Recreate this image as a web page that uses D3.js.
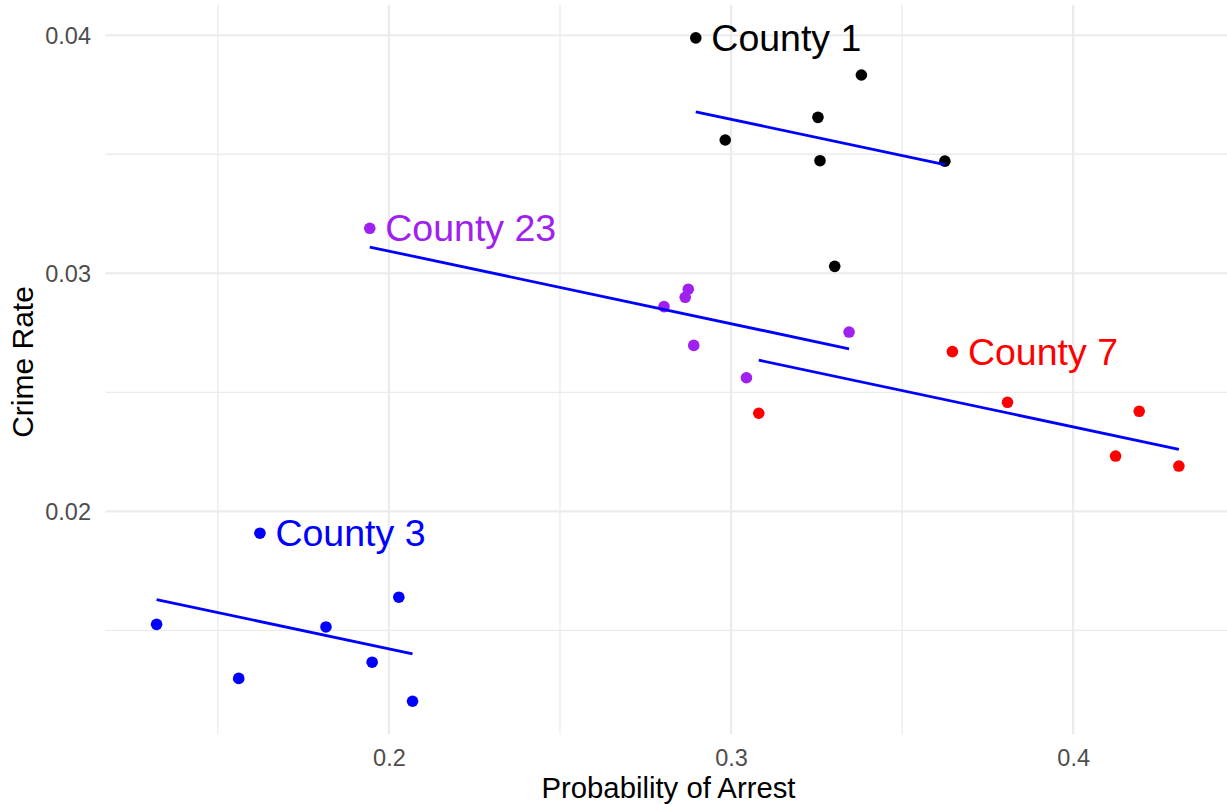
<!DOCTYPE html>
<html>
<head>
<meta charset="utf-8">
<script src="https://cdn.jsdelivr.net/npm/d3@7"></script>
<style>
  body { margin: 0; background: #fff; }
  text { font-family: "Liberation Sans", Arial, sans-serif; }
</style>
</head>
<body>
<div id="chart"></div>
<script>
// first entry of each county is the labelled one
const countyNames = ['County 1', 'County 3', 'County 7', 'County 23'];

const county1Arrest = [0.2897, 0.3381, 0.3254, 0.2983, 0.3260, 0.3625, 0.3303];
const county1Crime  = [0.03989, 0.03833, 0.03655, 0.03560, 0.03473, 0.03471, 0.03029];

const county3Arrest = [0.1623, 0.1321, 0.1561, 0.1816, 0.1951, 0.2029, 0.2069];
const county3Crime  = [0.01908, 0.01525, 0.01298, 0.01514, 0.01366, 0.01639, 0.01202];

const county7Arrest = [0.3647, 0.3808, 0.3081, 0.4193, 0.4124, 0.4309];
const county7Crime  = [0.02671, 0.02458, 0.02412, 0.02420, 0.02232, 0.02190];

const county23Arrest = [0.1944, 0.2804, 0.2875, 0.2866, 0.2891, 0.3045, 0.3345];
const county23Crime  = [0.03189, 0.02860, 0.02933, 0.02899, 0.02697, 0.02561, 0.02753];

const xTicks = [0.2, 0.3, 0.4],
      xMinor = [0.15, 0.25, 0.35];
const yTicks = [0.02, 0.03, 0.04],
      yMinor = [0.015, 0.025, 0.035];

const arrestByCounty = [county1Arrest, county3Arrest, county7Arrest, county23Arrest],
      crimeByCounty  = [county1Crime, county3Crime, county7Crime, county23Crime];

const counties = countyNames.map((name, i) => ({
    name: name,
    points: arrestByCounty[i].map((x, j) => ({county: name, x: x, y: crimeByCounty[i][j]}))
}));
const allPoints = counties.flatMap(c => c.points);

// county fixed effects fit: common slope, each line through its county mean
let sxy = 0, sxx = 0;
counties.forEach(c => {
    c.mx = d3.mean(c.points, d => d.x);
    c.my = d3.mean(c.points, d => d.y);
    c.points.forEach(p => {
        sxy += (p.x - c.mx) * (p.y - c.my);
        sxx += (p.x - c.mx) * (p.x - c.mx);
    });
});
const slope = sxy / sxx;

const W = 1227, H = 804;
const margin = {top: 4.7, left: 105.5},
      width = 1124.5,
      height = 729.7;

const colour = d3.scaleOrdinal()
    .domain(countyNames)
    .range(['#000000', '#0000FF', '#FF0000', '#A020F0']);

const pad = (ext) => {
    const r = ext[1] - ext[0];
    return [ext[0] - 0.05 * r, ext[1] + 0.05 * r];
};

const xScale = d3.scaleLinear()
    .domain(pad(d3.extent(allPoints, d => d.x)))
    .range([0, width]);
const yScale = d3.scaleLinear()
    .domain(pad(d3.extent(allPoints, d => d.y)))
    .range([height, 0]);

const svg = d3.select('#chart').append('svg')
    .attr('width', W)
    .attr('height', H);

const g = svg.append('g')
    .attr('transform', `translate(${margin.left}, ${margin.top})`);

// grid
const grid = g.append('g').attr('stroke', '#EBEBEB');
grid.selectAll('.xminor').data(xMinor).join('line')
    .attr('x1', d => xScale(d)).attr('x2', d => xScale(d))
    .attr('y1', 0).attr('y2', height)
    .attr('stroke-width', 1.3);
grid.selectAll('.yminor').data(yMinor).join('line')
    .attr('class', 'yminor')
    .attr('y1', d => yScale(d)).attr('y2', d => yScale(d))
    .attr('x1', 0).attr('x2', width)
    .attr('stroke-width', 1.3);
grid.selectAll('.xmajor').data(xTicks).join('line')
    .attr('class', 'xmajor')
    .attr('x1', d => xScale(d)).attr('x2', d => xScale(d))
    .attr('y1', 0).attr('y2', height)
    .attr('stroke-width', 2.2);
grid.selectAll('.ymajor').data(yTicks).join('line')
    .attr('class', 'ymajor')
    .attr('y1', d => yScale(d)).attr('y2', d => yScale(d))
    .attr('x1', 0).attr('x2', width)
    .attr('stroke-width', 2.2);

// axes
const xAxis = g.append('g')
    .attr('transform', `translate(0, ${height})`)
    .call(d3.axisBottom(xScale).tickValues(xTicks).tickSize(0).tickPadding(15).tickFormat(d3.format('.1f')));
const yAxis = g.append('g')
    .call(d3.axisLeft(yScale).tickValues(yTicks).tickSize(0).tickPadding(14.5).tickFormat(d3.format('.2f')));
[xAxis, yAxis].forEach(a => {
    a.select('.domain').remove();
    a.selectAll('text')
        .attr('fill', '#4D4D4D')
        .style('font-size', '23.5px')
        .style('font-family', '"Liberation Sans", Arial, sans-serif');
});
yAxis.selectAll('text').attr('dy', '0.35em');

// points
g.append('g').selectAll('circle')
    .data(allPoints)
    .join('circle')
    .attr('cx', d => xScale(d.x))
    .attr('cy', d => yScale(d.y))
    .attr('r', 5.8)
    .attr('fill', d => colour(d.county));

// fitted lines
g.append('g').selectAll('line')
    .data(counties)
    .join('line')
    .attr('x1', c => xScale(d3.min(c.points, d => d.x)))
    .attr('x2', c => xScale(d3.max(c.points, d => d.x)))
    .attr('y1', c => yScale(c.my + slope * (d3.min(c.points, d => d.x) - c.mx)))
    .attr('y2', c => yScale(c.my + slope * (d3.max(c.points, d => d.x) - c.mx)))
    .attr('stroke', '#0000FF')
    .attr('stroke-width', 2.8);

// county labels
g.append('g').selectAll('text')
    .data(counties)
    .join('text')
    .attr('x', c => xScale(c.points[0].x) + 15.5)
    .attr('y', c => yScale(c.points[0].y))
    .attr('dy', '0.35em')
    .attr('fill', c => colour(c.name))
    .style('font-size', '37.5px')
    .text(c => c.name);

// axis titles
svg.append('text')
    .attr('x', 668.5)
    .attr('y', 797.5)
    .attr('text-anchor', 'middle')
    .style('font-size', '29.3px')
    .text('Probability of Arrest');

svg.append('text')
    .attr('transform', 'translate(33, 362) rotate(-90)')
    .attr('text-anchor', 'middle')
    .style('font-size', '30px')
    .text('Crime Rate');
</script>
</body>
</html>
